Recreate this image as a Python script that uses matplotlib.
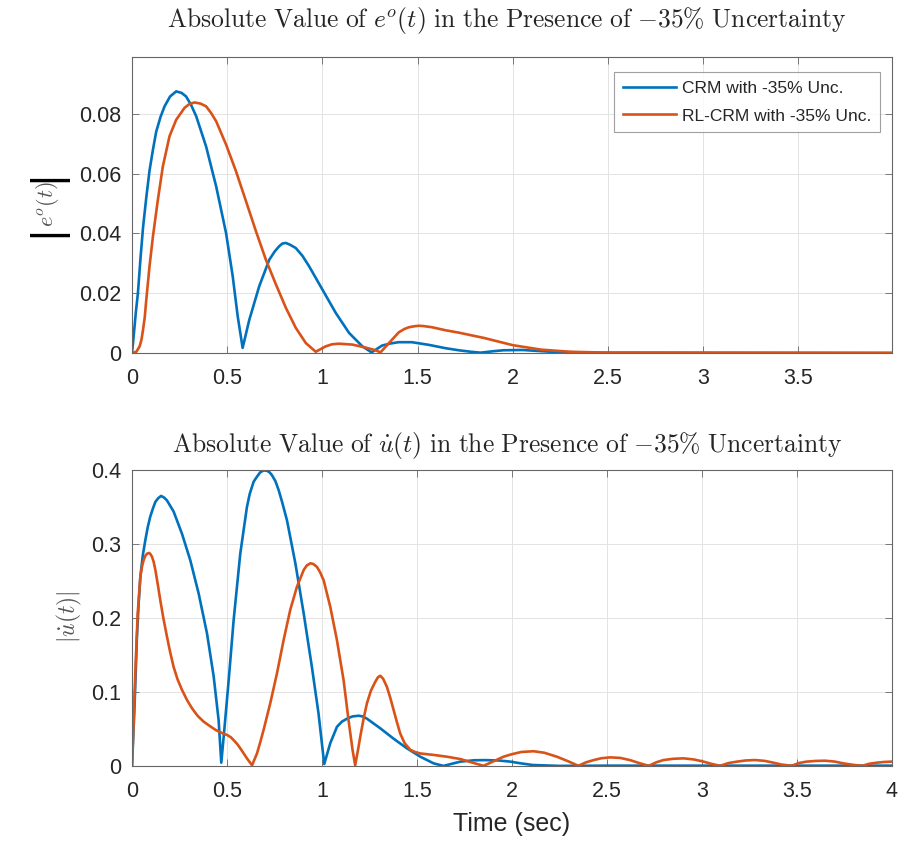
import matplotlib
matplotlib.use("Agg")
import matplotlib.pyplot as plt

# --- tracking error |e^o(t)| ---
t_err_crm = [0, 0.01, 0.02, 0.031, 0.045, 0.058, 0.075, 0.092, 0.11, 0.127, 0.15,
             0.171, 0.20, 0.232, 0.26, 0.284, 0.31, 0.337, 0.389,
             0.442, 0.494, 0.529, 0.555, 0.581, 0.616, 0.668, 0.721, 0.75, 0.773,
             0.79, 0.808, 0.83, 0.86, 0.895, 0.93, 1.0, 1.07, 1.14, 1.21, 1.258,
             1.314, 1.36, 1.40, 1.47, 1.56, 1.646, 1.716, 1.78, 1.83, 1.9, 1.95,
             2.05, 2.2, 2.4, 3.99]
e_crm = [0, 0.0065, 0.0135, 0.020, 0.032, 0.042, 0.052, 0.061, 0.068, 0.074, 0.079,
         0.0825, 0.0858, 0.0875, 0.0870, 0.0858, 0.083, 0.0792, 0.0691,
         0.0557, 0.0401, 0.0256, 0.0123, 0.0017, 0.0111, 0.0223, 0.0312, 0.034, 0.0357,
         0.0366, 0.0368, 0.0362, 0.0351, 0.0325, 0.029, 0.0212, 0.0134, 0.0067, 0.0022, 0.0002,
         0.0025, 0.0032, 0.0036, 0.0036, 0.0027, 0.0016, 0.0009, 0.0004, 0.0001, 0.0006, 0.0009,
         0.001, 0.0004, 0.0001, 0]

t_err_rl = [0, 0.023, 0.040, 0.05, 0.058, 0.067, 0.075, 0.092, 0.110, 0.136, 0.162,
            0.197, 0.232, 0.276, 0.30, 0.328, 0.36, 0.389, 0.415, 0.442, 0.494,
            0.546, 0.599, 0.651, 0.703, 0.756, 0.808, 0.86, 0.913, 0.965, 1.017,
            1.05, 1.087, 1.157, 1.227, 1.279, 1.305, 1.349, 1.401, 1.43, 1.454,
            1.48, 1.506, 1.53, 1.576, 1.646, 1.716, 1.85, 2.0, 2.15, 2.3, 2.5, 3.99]
e_rl = [0, 0.0004, 0.0022, 0.0045, 0.0078, 0.012, 0.0178, 0.029, 0.039, 0.0513, 0.0624,
        0.0725, 0.078, 0.082, 0.0832, 0.0838, 0.0834, 0.0825, 0.0803, 0.0775, 0.0697,
        0.0608, 0.0507, 0.0407, 0.0312, 0.0229, 0.0151, 0.0084, 0.0033, 0.0004, 0.0022,
        0.0029, 0.0031, 0.0028, 0.0018, 0.0009, 0.0002, 0.0033, 0.0069, 0.0080, 0.0086,
        0.0089, 0.0091, 0.0090, 0.0086, 0.0076, 0.0068, 0.005, 0.0026, 0.0011, 0.0004,
        0.0001, 0]

# --- control rate |u_dot(t)| ---
t_u_crm = [0, 0.014, 0.026, 0.035, 0.044, 0.057, 0.070, 0.083, 0.096, 0.11, 0.123,
           0.138, 0.153, 0.168, 0.184, 0.219, 0.263, 0.307, 0.351, 0.395, 0.430,
           0.456, 0.470, 0.486, 0.509, 0.535, 0.570, 0.605, 0.62, 0.640, 0.655,
           0.675, 0.693, 0.711, 0.724, 0.737, 0.755, 0.772, 0.79, 0.816, 0.860,
           0.904, 0.947, 0.982, 1.012, 1.044, 1.079, 1.105, 1.132, 1.16, 1.193,
           1.215, 1.237, 1.307, 1.377, 1.447, 1.518, 1.588, 1.640, 1.728, 1.80,
           1.86, 1.93, 1.99, 2.05, 2.11, 2.25, 2.5, 4.0]
u_crm = [0, 0.085, 0.175, 0.22, 0.256, 0.285, 0.305, 0.323, 0.337, 0.348, 0.357,
         0.362, 0.365, 0.363, 0.359, 0.344, 0.314, 0.278, 0.233, 0.179, 0.121,
         0.062, 0.0045, 0.049, 0.116, 0.197, 0.287, 0.350, 0.368, 0.384, 0.390,
         0.397, 0.3995, 0.399, 0.397, 0.393, 0.385, 0.373, 0.357, 0.332, 0.274,
         0.206, 0.134, 0.071, 0.0027, 0.031, 0.053, 0.060, 0.064, 0.067, 0.068,
         0.067, 0.064, 0.051, 0.037, 0.024, 0.0126, 0.0036, 0.0002, 0.0059, 0.0078,
         0.008, 0.0075, 0.006, 0.0035, 0.0014, 0.0002, 0.0005, 0.0005]

t_u_rl = [0, 0.009, 0.018, 0.030, 0.044, 0.053, 0.061, 0.070, 0.079, 0.091, 0.098,
          0.105, 0.114, 0.123, 0.136, 0.149, 0.165, 0.184, 0.20, 0.219, 0.24,
          0.263, 0.29, 0.316, 0.345, 0.377, 0.41, 0.439, 0.47, 0.500, 0.52,
          0.535, 0.553, 0.570, 0.588, 0.605, 0.632, 0.658, 0.675, 0.693, 0.728,
          0.763, 0.798, 0.833, 0.868, 0.904, 0.92, 0.939, 0.955, 0.974, 0.99,
          1.009, 1.044, 1.079, 1.114, 1.140, 1.161, 1.175, 1.19, 1.202, 1.22,
          1.237, 1.258, 1.281, 1.295, 1.307, 1.322, 1.342, 1.36, 1.377, 1.395,
          1.412, 1.435, 1.465, 1.49, 1.518, 1.588, 1.658, 1.728, 1.80, 1.851,
          1.90, 1.956, 2.0, 2.05, 2.114, 2.17, 2.237, 2.30, 2.35, 2.39, 2.43,
          2.47, 2.517, 2.57, 2.622, 2.67, 2.72, 2.76, 2.798, 2.85, 2.904, 2.96,
          3.01, 3.05, 3.096, 3.14, 3.184, 3.23, 3.28, 3.33, 3.377, 3.42, 3.473,
          3.51, 3.55, 3.60, 3.649, 3.70, 3.745, 3.80, 3.845, 3.88, 3.92, 3.96, 4.0]
u_rl = [0, 0.062, 0.13, 0.206, 0.256, 0.270, 0.278, 0.284, 0.287, 0.288, 0.286,
        0.283, 0.276, 0.265, 0.245, 0.224, 0.200, 0.175, 0.155, 0.134, 0.117,
        0.103, 0.089, 0.078, 0.068, 0.060, 0.054, 0.049, 0.045, 0.042, 0.039,
        0.035, 0.030, 0.024, 0.017, 0.0104, 0.001, 0.017, 0.032, 0.049, 0.085,
        0.125, 0.170, 0.211, 0.242, 0.265, 0.271, 0.274, 0.273, 0.269, 0.262,
        0.251, 0.215, 0.170, 0.116, 0.062, 0.022, 0.001, 0.022, 0.040, 0.065,
        0.085, 0.102, 0.114, 0.120, 0.122, 0.118, 0.107, 0.092, 0.076, 0.059,
        0.044, 0.031, 0.022, 0.019, 0.017, 0.015, 0.0126, 0.0095, 0.004, 0.0003,
        0.006, 0.0126, 0.016, 0.019, 0.020, 0.018, 0.0126, 0.006, 0.0003, 0.005, 0.008,
        0.0105, 0.0117, 0.011, 0.008, 0.004, 0.0003, 0.005, 0.0081, 0.0098, 0.0104, 0.0088,
        0.0059, 0.003, 0.0003, 0.004, 0.0059, 0.0075, 0.0081, 0.007, 0.0045, 0.002, 0.0003,
        0.004, 0.0059, 0.0069, 0.0072, 0.006, 0.0036, 0.0015, 0.0003, 0.003, 0.0045, 0.0055, 0.006]

err_yticks = [0, 0.02, 0.04, 0.06, 0.08]
err_ylabels = ["0", "0.02", "0.04", "0.06", "0.08"]
u_yticks = [0, 0.1, 0.2, 0.3, 0.4]
u_ylabels = ["0", "0.1", "0.2", "0.3", "0.4"]
err_xticks = [0, 0.5, 1, 1.5, 2, 2.5, 3, 3.5]
u_xticks = [0, 0.5, 1, 1.5, 2, 2.5, 3, 3.5, 4]

legend_labels = ["CRM with -35% Unc.", "RL-CRM with -35% Unc."]

BLUE = "#0072BD"
ORANGE = "#D95319"
TXT = "#262626"

plt.rcParams["font.family"] = ["Liberation Sans", "DejaVu Sans"]
plt.rcParams["mathtext.fontset"] = "cm"

fig = plt.figure(figsize=(9.11, 8.43), dpi=100)
ax1 = fig.add_axes([0.1449, 0.5813, 0.834, 0.3511])
ax2 = fig.add_axes([0.1449, 0.0913, 0.834, 0.3511])


def style(ax, xticks, yticks, ylabels):
    ax.set_xticks(xticks)
    ax.set_xticklabels([("%g" % v) for v in xticks])
    ax.set_yticks(yticks)
    ax.set_yticklabels(ylabels)
    ax.tick_params(direction="in", length=5, width=0.6, top=True, right=True,
                   labelsize=15.5, colors="#666666", labelcolor=TXT)
    ax.tick_params(axis="x", pad=11)
    ax.tick_params(axis="y", pad=8)
    ax.grid(True, color="#e3e3e3", linewidth=0.7)
    ax.set_axisbelow(True)
    for sp in ax.spines.values():
        sp.set_color("#666666")
        sp.set_linewidth(0.8)


ax1.plot(t_err_crm, e_crm, color=BLUE, lw=1.9, label=legend_labels[0])
ax1.plot(t_err_rl, e_rl, color=ORANGE, lw=1.9, label=legend_labels[1])
ax1.set_xlim(0, 3.99)
ax1.set_ylim(0, 0.099)
style(ax1, err_xticks, err_yticks, err_ylabels)
leg = ax1.legend(loc="upper right", fontsize=12.5, frameon=True, fancybox=False,
                 handlelength=3.1, borderpad=0.5, labelspacing=0.72,
                 bbox_to_anchor=(0.984, 0.949), borderaxespad=0, handletextpad=0.3)
leg.get_frame().set_edgecolor("#888888")
leg.get_frame().set_linewidth(0.8)
for txt in leg.get_texts():
    txt.set_color(TXT)

ax2.plot(t_u_crm, u_crm, color=BLUE, lw=1.9)
ax2.plot(t_u_rl, u_rl, color=ORANGE, lw=1.9)
ax2.set_xlim(0, 4)
ax2.set_ylim(0, 0.4)
style(ax2, u_xticks, u_yticks, u_ylabels)
ax2.set_xlabel("Time (sec)", fontsize=18, color=TXT, labelpad=7)

# titles (LaTeX-style text)
fig.text(0.5565, 0.976,
         r"$\mathrm{Absolute\ Value\ of\ }e^o(t)\mathrm{\ in\ the\ Presence\ of\ }{-35\%}\mathrm{\ Uncertainty}$",
         fontsize=18.4, color=TXT, ha="center", va="center")
fig.text(0.5565, 0.4721,
         r"$\mathrm{Absolute\ Value\ of\ }\dot{u}(t)\mathrm{\ in\ the\ Presence\ of\ }{-35\%}\mathrm{\ Uncertainty}$",
         fontsize=18.4, color=TXT, ha="center", va="center")

# y labels: |e^o(t)| with heavy bars, |u_dot(t)|
fig.text(0.0516, 0.758, r"$e^o(t)$", fontsize=16, color="#555555",
         rotation=90, ha="center", va="center")
for ybar in (1 - 176.7 / 843, 1 - 232 / 843):
    fig.text(0.0521, ybar, "|", fontsize=30, color="black", rotation=90,
             ha="center", va="center")
fig.text(0.0757, 0.269, r"$|\dot{u}(t)|$", fontsize=17, color="#555555",
         rotation=90, ha="center", va="center")

fig.savefig("out.png", dpi=100)
